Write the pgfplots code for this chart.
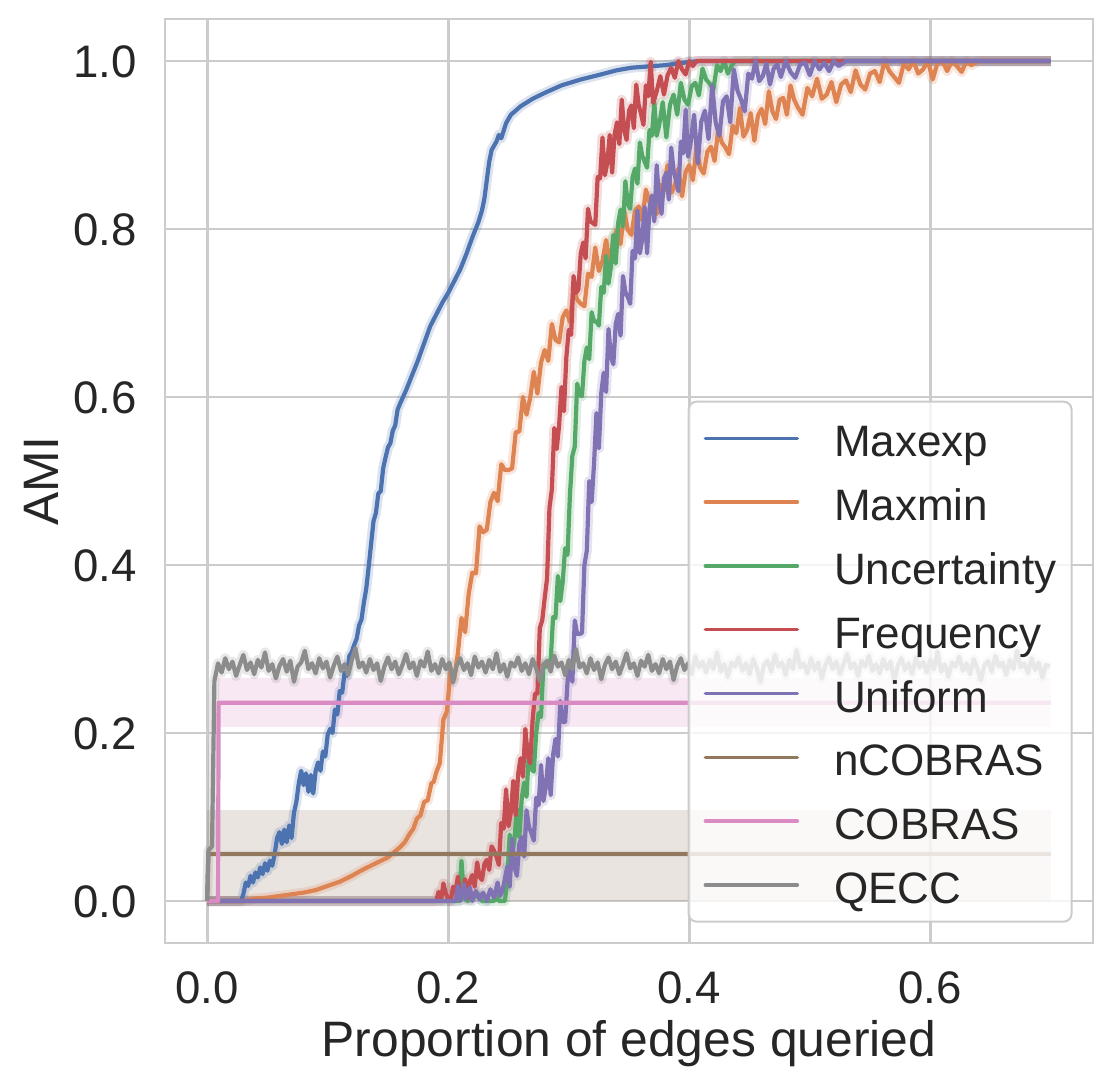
\documentclass[border=0pt]{standalone}
\usepackage{fontspec}
\setmainfont{Liberation Sans}
\usepackage{pgfplots}
\usepackage{pgfplotstable}
\pgfplotsset{compat=1.18}
\definecolor{cblue}{HTML}{4C72B0}
\definecolor{corange}{HTML}{DD8452}
\definecolor{cgreen}{HTML}{55A868}
\definecolor{cred}{HTML}{C44E52}
\definecolor{cpurple}{HTML}{8172B3}
\definecolor{cbrown}{HTML}{937860}
\definecolor{cpink}{HTML}{DA8BC3}
\definecolor{cgray}{HTML}{8C8C8C}
\definecolor{gridc}{HTML}{CCCCCC}
\definecolor{txt}{HTML}{262626}

\pgfplotstableread{
x y
0.000 0
0.028 0
0.030 0.008
0.032 0.022
0.034 0.018
0.036 0.030
0.038 0.022
0.040 0.034
0.042 0.028
0.044 0.040
0.046 0.032
0.048 0.045
0.050 0.036
0.052 0.048
0.054 0.042
0.056 0.056
0.058 0.075
0.060 0.082
0.062 0.068
0.064 0.085
0.066 0.070
0.068 0.090
0.070 0.075
0.072 0.105
0.074 0.118
0.076 0.140
0.078 0.155
0.080 0.138
0.082 0.152
0.084 0.130
0.086 0.150
0.088 0.128
0.090 0.155
0.092 0.165
0.094 0.155
0.096 0.178
0.098 0.172
0.100 0.198
0.102 0.205
0.104 0.200
0.106 0.228
0.108 0.222
0.110 0.250
0.112 0.248
0.114 0.272
0.116 0.268
0.118 0.292
0.120 0.296
0.122 0.305
0.124 0.312
0.126 0.328
0.128 0.335
0.130 0.355
0.132 0.372
0.134 0.398
0.136 0.425
0.138 0.452
0.140 0.462
0.142 0.485
0.144 0.488
0.146 0.515
0.148 0.528
0.150 0.540
0.152 0.545
0.154 0.560
0.156 0.566
0.158 0.585
0.160 0.592
0.165 0.608
0.170 0.626
0.175 0.644
0.180 0.664
0.185 0.684
0.190 0.698
0.195 0.712
0.200 0.724
0.205 0.738
0.210 0.752
0.215 0.770
0.220 0.790
0.225 0.808
0.228 0.822
0.230 0.836
0.232 0.858
0.234 0.880
0.236 0.894
0.240 0.904
0.242 0.912
0.244 0.908
0.248 0.926
0.252 0.936
0.260 0.946
0.270 0.955
0.280 0.962
0.294 0.971
0.310 0.978
0.324 0.983
0.340 0.989
0.352 0.992
0.370 0.994
0.380 0.995
0.390 0.997
0.401 0.999
0.410 1.0
0.700 1.0
}\maxexp

\pgfplotstableread{
x y
0.000 0
0.030 0
0.040 0.003
0.050 0.004
0.060 0.006
0.070 0.008
0.080 0.010
0.090 0.013
0.100 0.018
0.110 0.023
0.120 0.030
0.130 0.038
0.140 0.045
0.150 0.052
0.155 0.058
0.160 0.064
0.164 0.070
0.168 0.080
0.171 0.086
0.174 0.098
0.177 0.102
0.180 0.118
0.183 0.120
0.186 0.140
0.188 0.142
0.190 0.153
0.193 0.164
0.196 0.216
0.199 0.226
0.202 0.277
0.205 0.265
0.208 0.295
0.211 0.337
0.214 0.320
0.217 0.366
0.220 0.391
0.223 0.390
0.226 0.446
0.229 0.439
0.232 0.442
0.235 0.475
0.238 0.486
0.241 0.476
0.244 0.520
0.247 0.513
0.250 0.513
0.253 0.515
0.256 0.558
0.259 0.559
0.262 0.600
0.265 0.579
0.268 0.599
0.271 0.630
0.274 0.604
0.277 0.641
0.280 0.656
0.283 0.643
0.286 0.687
0.289 0.668
0.292 0.665
0.295 0.695
0.298 0.703
0.301 0.689
0.304 0.728
0.307 0.716
0.310 0.711
0.313 0.708
0.316 0.747
0.319 0.743
0.322 0.778
0.325 0.750
0.328 0.762
0.331 0.787
0.334 0.756
0.337 0.788
0.340 0.799
0.343 0.782
0.346 0.822
0.349 0.799
0.352 0.793
0.355 0.821
0.358 0.827
0.361 0.810
0.364 0.847
0.367 0.832
0.370 0.825
0.373 0.818
0.376 0.853
0.379 0.845
0.382 0.876
0.385 0.843
0.388 0.851
0.391 0.872
0.394 0.839
0.397 0.868
0.400 0.876
0.403 0.858
0.406 0.897
0.409 0.873
0.412 0.866
0.415 0.892
0.418 0.898
0.421 0.881
0.424 0.918
0.427 0.903
0.430 0.897
0.433 0.889
0.436 0.923
0.439 0.914
0.442 0.944
0.445 0.910
0.448 0.918
0.451 0.938
0.454 0.905
0.457 0.935
0.460 0.943
0.463 0.925
0.466 0.964
0.469 0.940
0.472 0.931
0.475 0.954
0.478 0.956
0.481 0.936
0.484 0.971
0.487 0.954
0.490 0.945
0.494 0.936
0.498 0.968
0.502 0.958
0.506 0.979
0.510 0.955
0.514 0.960
0.518 0.975
0.522 0.951
0.526 0.972
0.530 0.977
0.534 0.963
0.538 0.989
0.542 0.972
0.546 0.966
0.550 0.985
0.554 0.988
0.558 0.975
0.562 1.0
0.566 0.988
0.570 0.981
0.574 0.974
0.578 0.997
0.582 0.990
0.586 1.0
0.590 0.985
0.594 0.990
0.598 1.0
0.602 0.978
0.606 0.998
0.610 1.0
0.614 0.988
0.618 1.0
0.622 0.994
0.626 0.987
0.630 1.0
0.634 0.995
0.640 1.0
0.700 1.0
}\maxmin

\pgfplotstableread{
x y
0.000 0
0.209 0.0
0.211 0.048
0.213 0.004
0.216 0.0
0.226 0.008
0.228 0.0
0.238 0.0
0.240 0.006
0.242 0.0
0.247 0.0
0.249 0.024
0.251 0.079
0.253 0.054
0.255 0.074
0.257 0.110
0.259 0.076
0.261 0.122
0.263 0.141
0.265 0.124
0.267 0.181
0.269 0.157
0.271 0.154
0.273 0.200
0.275 0.224
0.277 0.219
0.279 0.282
0.281 0.279
0.283 0.286
0.285 0.285
0.287 0.338
0.289 0.337
0.291 0.387
0.293 0.357
0.295 0.380
0.297 0.420
0.299 0.412
0.301 0.484
0.303 0.530
0.305 0.541
0.307 0.616
0.309 0.602
0.311 0.601
0.313 0.643
0.315 0.659
0.317 0.645
0.319 0.701
0.321 0.690
0.323 0.690
0.325 0.685
0.327 0.731
0.329 0.724
0.331 0.768
0.333 0.735
0.335 0.755
0.337 0.793
0.339 0.759
0.341 0.807
0.343 0.823
0.345 0.803
0.347 0.857
0.349 0.830
0.351 0.824
0.353 0.862
0.355 0.872
0.357 0.854
0.359 0.903
0.361 0.887
0.363 0.880
0.365 0.873
0.367 0.918
0.369 0.911
0.371 0.951
0.373 0.911
0.375 0.923
0.378 0.951
0.381 0.909
0.384 0.948
0.387 0.960
0.390 0.936
0.393 0.974
0.396 0.954
0.399 0.948
0.402 0.970
0.405 0.974
0.408 0.959
0.411 0.991
0.414 0.978
0.417 0.973
0.420 0.966
0.423 0.995
0.426 0.988
0.429 1.0
0.432 0.985
0.435 0.994
0.438 1.0
0.700 1.0
}\uncert

\pgfplotstableread{
x y
0.000 0
0.190 0.0
0.192 0.011
0.194 0.0
0.196 0.021
0.198 0.009
0.200 0.002
0.202 0.0
0.204 0.017
0.206 0.010
0.208 0.029
0.210 0.004
0.212 0.010
0.214 0.026
0.216 0.003
0.218 0.024
0.220 0.031
0.222 0.017
0.224 0.046
0.226 0.029
0.228 0.025
0.230 0.044
0.232 0.049
0.234 0.037
0.236 0.065
0.238 0.060
0.240 0.053
0.242 0.043
0.244 0.093
0.246 0.086
0.248 0.133
0.250 0.089
0.252 0.106
0.254 0.143
0.256 0.102
0.258 0.151
0.260 0.170
0.262 0.148
0.264 0.205
0.266 0.173
0.268 0.164
0.270 0.215
0.272 0.247
0.274 0.247
0.276 0.325
0.278 0.334
0.280 0.360
0.282 0.384
0.284 0.468
0.286 0.490
0.288 0.563
0.290 0.538
0.292 0.566
0.294 0.612
0.296 0.583
0.298 0.647
0.300 0.680
0.302 0.674
0.304 0.744
0.306 0.724
0.308 0.728
0.310 0.771
0.312 0.784
0.314 0.765
0.316 0.824
0.318 0.809
0.320 0.807
0.322 0.805
0.324 0.862
0.326 0.860
0.328 0.909
0.330 0.864
0.332 0.879
0.334 0.912
0.336 0.867
0.338 0.912
0.340 0.927
0.342 0.901
0.344 0.954
0.346 0.918
0.348 0.906
0.350 0.941
0.352 0.947
0.354 0.920
0.356 0.972
0.358 0.948
0.360 0.937
0.362 0.924
0.364 0.971
0.366 0.958
0.368 0.999
0.370 0.950
0.373 0.964
0.376 0.982
0.379 0.960
0.382 0.983
0.385 0.992
0.388 0.980
0.391 1.0
0.394 0.990
0.397 0.984
0.400 1.0
0.403 0.994
0.406 1.0
0.700 1.0
}\freq

\pgfplotstableread{
x y
0.000 0
0.206 0
0.208 0.018
0.210 0.0
0.213 0.020
0.215 0.002
0.218 0.016
0.220 0.0
0.223 0.012
0.226 0.002
0.229 0.010
0.232 0.0
0.235 0.014
0.238 0.004
0.241 0.022
0.243 0.006
0.245 0.012
0.247 0.026
0.249 0.041
0.251 0.017
0.253 0.074
0.255 0.040
0.257 0.030
0.259 0.068
0.261 0.076
0.263 0.053
0.265 0.108
0.267 0.088
0.269 0.081
0.271 0.072
0.273 0.123
0.275 0.114
0.277 0.162
0.279 0.119
0.281 0.136
0.283 0.170
0.285 0.126
0.287 0.174
0.289 0.193
0.291 0.172
0.293 0.238
0.295 0.213
0.297 0.213
0.299 0.261
0.301 0.281
0.303 0.261
0.305 0.334
0.307 0.318
0.309 0.318
0.311 0.319
0.313 0.400
0.315 0.417
0.317 0.500
0.319 0.475
0.321 0.521
0.323 0.581
0.325 0.539
0.327 0.605
0.329 0.629
0.331 0.606
0.333 0.681
0.335 0.648
0.337 0.639
0.339 0.687
0.341 0.699
0.343 0.673
0.345 0.744
0.347 0.725
0.349 0.719
0.351 0.711
0.353 0.774
0.355 0.765
0.357 0.822
0.359 0.771
0.361 0.788
0.363 0.826
0.365 0.771
0.367 0.824
0.369 0.840
0.371 0.809
0.373 0.876
0.375 0.833
0.377 0.818
0.379 0.860
0.381 0.867
0.383 0.835
0.385 0.897
0.387 0.870
0.389 0.858
0.391 0.845
0.393 0.904
0.395 0.890
0.397 0.942
0.399 0.886
0.401 0.901
0.404 0.936
0.407 0.878
0.410 0.928
0.413 0.941
0.416 0.907
0.419 0.971
0.422 0.926
0.425 0.911
0.428 0.952
0.431 0.958
0.434 0.927
0.437 0.990
0.440 0.965
0.443 0.954
0.446 0.940
0.449 0.985
0.452 0.979
0.455 1.0
0.458 0.976
0.461 0.982
0.464 0.997
0.467 0.972
0.470 0.991
0.473 0.996
0.476 0.981
0.480 1.0
0.484 0.987
0.488 0.980
0.492 0.996
0.496 0.998
0.500 0.983
0.504 1.0
0.508 0.990
0.512 0.998
0.516 0.988
0.520 1.0
0.524 0.994
0.530 1.0
0.700 1.0
}\uniform

\pgfplotstableread{
x y
0.000 0
0.001 0.060
0.004 0.065
0.006 0.262
0.009 0.283
0.012 0.272
0.015 0.289
0.018 0.276
0.021 0.285
0.024 0.268
0.027 0.281
0.030 0.293
0.033 0.275
0.036 0.284
0.039 0.270
0.042 0.287
0.045 0.278
0.048 0.296
0.051 0.274
0.054 0.282
0.057 0.265
0.060 0.280
0.063 0.288
0.066 0.273
0.069 0.286
0.072 0.261
0.075 0.279
0.078 0.284
0.081 0.298
0.084 0.276
0.087 0.283
0.090 0.271
0.093 0.289
0.096 0.277
0.099 0.285
0.102 0.266
0.105 0.280
0.108 0.291
0.111 0.274
0.114 0.282
0.117 0.269
0.120 0.287
0.123 0.301
0.126 0.278
0.129 0.284
0.132 0.272
0.135 0.288
0.138 0.275
0.141 0.283
0.144 0.262
0.147 0.279
0.150 0.290
0.153 0.276
0.156 0.285
0.159 0.270
0.162 0.281
0.165 0.294
0.168 0.277
0.171 0.284
0.174 0.268
0.177 0.286
0.180 0.279
0.183 0.297
0.186 0.274
0.189 0.282
0.192 0.271
0.195 0.288
0.198 0.276
0.201 0.284
0.204 0.260
0.207 0.280
0.210 0.289
0.213 0.275
0.216 0.283
0.219 0.269
0.222 0.291
0.225 0.278
0.228 0.285
0.231 0.272
0.234 0.287
0.237 0.276
0.240 0.295
0.243 0.273
0.246 0.282
0.249 0.267
0.252 0.284
0.255 0.279
0.258 0.290
0.261 0.274
0.264 0.283
0.267 0.270
0.270 0.288
0.273 0.277
0.276 0.262
0.279 0.281
0.282 0.286
0.285 0.273
0.288 0.292
0.291 0.279
0.294 0.284
0.297 0.269
0.300 0.287
0.303 0.276
0.306 0.300
0.309 0.278
0.312 0.283
0.315 0.271
0.318 0.289
0.321 0.275
0.324 0.284
0.327 0.264
0.330 0.281
0.333 0.290
0.336 0.276
0.339 0.285
0.342 0.270
0.345 0.282
0.348 0.295
0.351 0.277
0.354 0.283
0.357 0.268
0.360 0.286
0.363 0.279
0.366 0.293
0.369 0.274
0.372 0.282
0.375 0.271
0.378 0.288
0.381 0.276
0.384 0.285
0.387 0.263
0.390 0.280
0.393 0.289
0.396 0.275
0.399 0.283
0.402 0.270
0.405 0.291
0.408 0.278
0.411 0.285
0.414 0.272
0.417 0.287
0.420 0.276
0.423 0.296
0.426 0.273
0.429 0.282
0.432 0.267
0.435 0.284
0.438 0.279
0.441 0.290
0.444 0.274
0.447 0.283
0.450 0.270
0.453 0.288
0.456 0.277
0.459 0.261
0.462 0.281
0.465 0.286
0.468 0.273
0.471 0.293
0.474 0.279
0.477 0.284
0.480 0.269
0.483 0.287
0.486 0.276
0.489 0.299
0.492 0.278
0.495 0.283
0.498 0.271
0.501 0.289
0.504 0.275
0.507 0.284
0.510 0.265
0.513 0.281
0.516 0.290
0.519 0.276
0.522 0.285
0.525 0.270
0.528 0.282
0.531 0.294
0.534 0.277
0.537 0.283
0.540 0.268
0.543 0.286
0.546 0.279
0.549 0.292
0.552 0.274
0.555 0.282
0.558 0.271
0.561 0.288
0.564 0.276
0.567 0.285
0.570 0.262
0.573 0.280
0.576 0.289
0.579 0.275
0.582 0.283
0.585 0.270
0.588 0.290
0.591 0.278
0.594 0.285
0.597 0.272
0.600 0.287
0.603 0.276
0.606 0.297
0.609 0.273
0.612 0.282
0.615 0.267
0.618 0.284
0.621 0.279
0.624 0.291
0.627 0.274
0.630 0.283
0.633 0.270
0.636 0.288
0.639 0.277
0.642 0.263
0.645 0.281
0.648 0.286
0.651 0.273
0.654 0.292
0.657 0.279
0.660 0.284
0.663 0.269
0.666 0.287
0.669 0.276
0.672 0.298
0.675 0.278
0.678 0.283
0.681 0.271
0.684 0.289
0.687 0.275
0.690 0.284
0.693 0.266
0.696 0.281
0.699 0.279
}\qecc

\begin{document}
\begin{tikzpicture}
\begin{axis}[
  name=ax,
  scale only axis, width=464pt, height=462pt,
  xmin=-0.035, xmax=0.735, ymin=-0.05, ymax=1.05,
  xtick={0,0.2,0.4,0.6}, xticklabels={0.0,0.2,0.4,0.6},
  ytick={0,0.2,0.4,0.6,0.8,1.0}, yticklabels={0.0,0.2,0.4,0.6,0.8,1.0},
  major tick length=0pt,
  grid=major,
  major grid style={draw=gridc, line width=1.35pt},
  axis line style={draw=gridc, line width=1.35pt},
  tick label style={font=\fontsize{22.8}{27}\selectfont, text=txt, inner sep=0pt},
  xticklabel style={anchor=base, yshift=-30pt},
  yticklabel style={anchor=base east, xshift=-14pt, yshift=-8.2pt},
  label style={font=\fontsize{24.9}{30}\selectfont, text=txt},
  xlabel={Proportion of edges queried},
  ylabel={AMI},
  xlabel style={at={(axis description cs:0.5,-0.1223)}, anchor=base},
  ylabel style={at={(axis description cs:-0.1336,0.5)}, anchor=center},
  legend cell align=left,
  legend image code/.code={\draw[#1, line width=1.7pt, line cap=round] (0pt,0pt) -- (46pt,0pt);},
  legend style={at={(0.978,0.022)}, anchor=south east,
    draw=gridc, line width=1pt, rounded corners=4pt,
    fill=white, fill opacity=0.8, draw opacity=1, text opacity=1,
    font=\fontsize{22}{26}\selectfont, text=txt,
    inner xsep=7.5pt, inner ysep=7.6pt, row sep=10.4pt,
    nodes={inner sep=0pt},
    /tikz/every odd column/.append style={column sep=17.5pt},
    /tikz/every even column/.append style={text height=20pt, text depth=3pt}},
  halo/.style={line width=5pt, opacity=0.2, forget plot, line join=round},
  main/.style={line width=2.1pt, line join=round},
]
% bands
\addplot[draw=none, fill=cbrown, fill opacity=0.2, forget plot] coordinates {(0,0) (0.7,0) (0.7,0.108) (0,0.108)} -- cycle;
\addplot[draw=none, fill=cpink, fill opacity=0.2, forget plot] coordinates {(0.009,0.207) (0.7,0.207) (0.7,0.266) (0.009,0.266)} -- cycle;
% halos
\addplot[halo, cblue] table {\maxexp};
\addplot[halo, corange] table {\maxmin};
\addplot[halo, cgreen] table {\uncert};
\addplot[halo, cred] table {\freq};
\addplot[halo, cpurple] table {\uniform};
\addplot[halo, cgray] table {\qecc};
% lines
\addplot[main, cblue] table {\maxexp};
\addlegendentry{Maxexp}
\addplot[main, corange] table {\maxmin};
\addlegendentry{Maxmin}
\addplot[main, cgreen] table {\uncert};
\addlegendentry{Uncertainty}
\addplot[main, cred] table {\freq};
\addlegendentry{Frequency}
\addplot[main, cpurple] table {\uniform};
\addlegendentry{Uniform}
\addplot[main, cbrown] coordinates {(0,0) (0.001,0.056) (0.7,0.056)};
\addlegendentry{nCOBRAS}
\addplot[main, cpink] coordinates {(0,0) (0.009,0) (0.0095,0.236) (0.7,0.236)};
\addlegendentry{COBRAS}
\addplot[main, cgray] table {\qecc};
\addlegendentry{QECC}
\end{axis}
\pgfresetboundingbox
\path[use as bounding box] ([xshift=-82.5pt,yshift=-73pt]ax.south west) rectangle ([xshift=11pt,yshift=9.5pt]ax.north east);
\end{tikzpicture}
\end{document}
